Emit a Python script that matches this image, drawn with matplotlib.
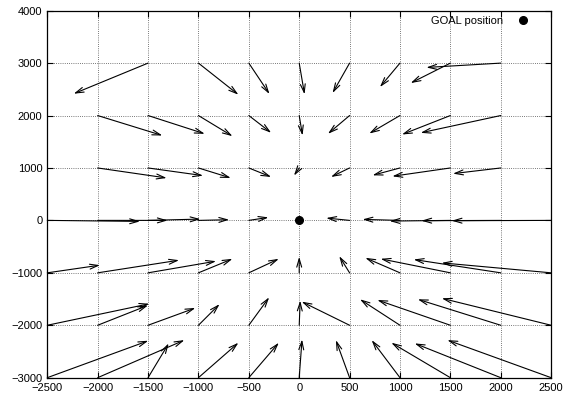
import matplotlib
matplotlib.use('Agg')
from matplotlib import pyplot as plt

plt.rcParams['font.family'] = ['Liberation Sans', 'DejaVu Sans']
plt.rcParams['font.size'] = 8

# arrow start points and displacement, row by row (y = 3000 ... -3000)
x0 = [-1500, -1000, -500, 0, 500, 1000, 1500, 2000,
      -2000, -1500, -1000, -500, 0, 500, 1000, 1500, 2000,
      -2000, -1500, -1000, -500, 0, 500, 1000, 1500, 2000,
      -2500, -2000, -1500, -1000, -500, 500, 1000, 1500, 2000, 2500,
      -2500, -2000, -1500, -1000, -500, 0, 500, 1000, 1500, 2000, 2500,
      -2500, -2000, -1500, -1000, -500, 0, 500, 1000, 1500, 2000, 2500,
      -2500, -2000, -1500, -1000, -500, 0, 500, 1000, 1500, 2000, 2500]
y0 = [3000] * 8 + [2000] * 9 + [1000] * 9 + [0] * 10 + [-1000] * 11 + [-2000] * 11 + [-3000] * 11
dx = [-738, 397, 205, 53, -169, -199, -394, -738,
      642, 563, 338, 222, 33, -215, -305, -480, -795,
      685, 546, 321, 222, -52, -185, -272, -576, -474,
      920, 695, 520, 305, 195, -232, -371, -603, -788, -987,
      523, 808, 675, 338, 298, 0, -103, -344, -692, -864, -1086,
      1013, 500, 470, 210, 202, 10, -476, -397, -725, -823, -1085,
      1003, 861, 205, 397, 298, 28, -136, -281, -586, -854, -1030]
dy = [-584, -603, -590, -596, -571, -457, -381, -83,
      -381, -349, -394, -330, -381, -349, -343, -362, -330,
      -191, -146, -191, -172, -146, -172, -140, -159, -108,
      -19, 0, 25, 13, 57, 45, 19, -13, -6, -6,
      146, 241, 222, 267, 267, 305, 318, 286, 267, 254, 190,
      410, 380, 330, 403, 533, 470, 450, 495, 482, 495, 514,
      705, 717, 654, 667, 667, 730, 717, 717, 667, 654, 717]

goal_x = [0]
goal_y = [0]

fig = plt.figure(figsize=(5.67, 4.0), dpi=100)
ax = fig.add_axes([0.0834, 0.0558, 0.8886, 0.9175])

for i in range(len(x0)):
    ax.annotate('', xy=(x0[i] + dx[i], y0[i] + dy[i]), xytext=(x0[i], y0[i]),
                arrowprops=dict(arrowstyle='->,head_length=0.75,head_width=0.22',
                                color='black', lw=0.8, shrinkA=0, shrinkB=0))

ax.plot(goal_x, goal_y, 'o', color='black', markersize=5.5, label='GOAL position', zorder=5)

ax.set_xlim(-2500, 2500)
ax.set_ylim(-3000, 4000)
ax.set_xticks(range(-2500, 2501, 500))
ax.set_yticks(range(-3000, 4001, 1000))
ax.grid(True, color='0.3', linestyle=(0, (1, 1.6)), linewidth=0.6)
ax.tick_params(direction='in', length=4, top=True, right=True, width=0.8)
for s in ax.spines.values():
    s.set_linewidth(0.9)

ax.legend(loc='upper right', bbox_to_anchor=(0.976, 1.008), frameon=False,
          markerfirst=False, handletextpad=1.0, borderaxespad=0.3, handlelength=1.5)

plt.savefig('out.png', dpi=100)
